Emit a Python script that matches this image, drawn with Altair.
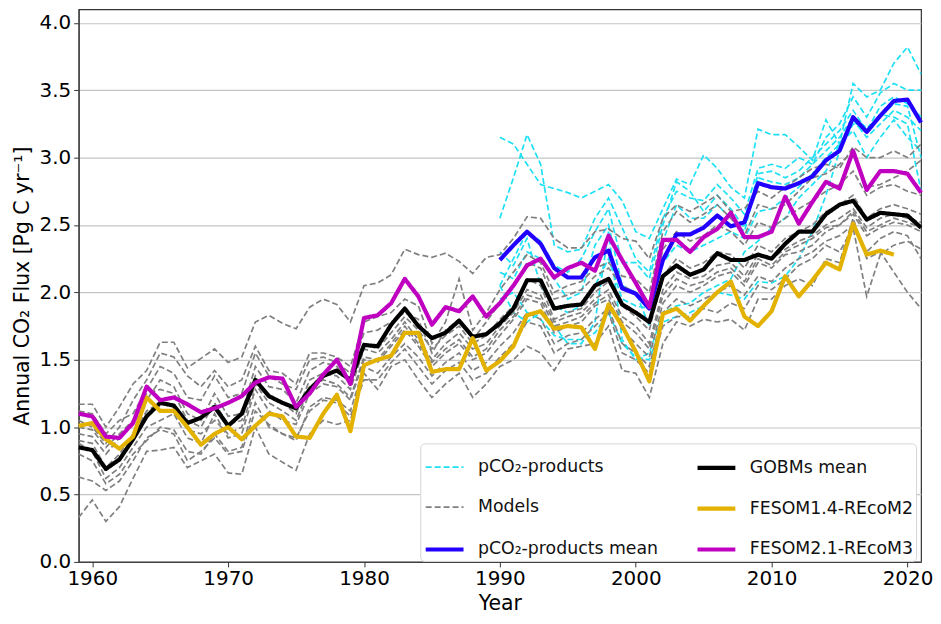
import altair as alt
import pandas as pd

# ---------------- data ----------------
years_all = list(range(1959, 2022))
years_prod = list(range(1990, 2022))
years_f14 = list(range(1959, 2020))

gobm_mean = [0.85, 0.83, 0.69, 0.76, 0.91, 1.08, 1.18, 1.16, 1.03, 1.07, 1.15,
             1.01, 1.10, 1.35, 1.23, 1.18, 1.14, 1.28, 1.38, 1.42, 1.35,
             1.61, 1.60, 1.76, 1.88, 1.75, 1.66, 1.70, 1.79, 1.67, 1.69,
             1.77, 1.88, 2.09, 2.09, 1.88, 1.90, 1.91, 2.05, 2.10, 1.91,
             1.85, 1.78, 2.12, 2.20, 2.13, 2.17, 2.29, 2.24, 2.24, 2.28,
             2.25, 2.36, 2.45, 2.45, 2.58, 2.65, 2.68, 2.54, 2.59, 2.58, 2.57, 2.48]

fesom21 = [1.10, 1.08, 0.93, 0.92, 1.03, 1.30, 1.20, 1.22, 1.17, 1.11, 1.14,
           1.18, 1.23, 1.33, 1.37, 1.36, 1.15, 1.25, 1.39, 1.50, 1.32,
           1.81, 1.83, 1.92, 2.10, 1.97, 1.76, 1.89, 1.86, 1.97, 1.82,
           1.92, 2.05, 2.20, 2.25, 2.11, 2.18, 2.22, 2.16, 2.42, 2.24,
           2.07, 1.89, 2.39, 2.39, 2.30, 2.41, 2.47, 2.59, 2.41, 2.41,
           2.45, 2.71, 2.51, 2.67, 2.82, 2.77, 3.05, 2.76, 2.90, 2.90, 2.88, 2.74]

fesom14 = [1.01, 1.03, 0.91, 0.84, 0.93, 1.22, 1.12, 1.12, 1.00, 0.87, 0.95,
           1.00, 0.91, 1.01, 1.10, 1.08, 0.93, 0.92, 1.10, 1.24, 0.97,
           1.46, 1.50, 1.53, 1.70, 1.70, 1.41, 1.43, 1.43, 1.66, 1.42,
           1.49, 1.60, 1.83, 1.86, 1.73, 1.75, 1.74, 1.58, 1.91, 1.75,
           1.56, 1.34, 1.84, 1.88, 1.79, 1.90, 2.00, 2.08, 1.82, 1.75,
           1.86, 2.12, 1.97, 2.09, 2.22, 2.17, 2.51, 2.28, 2.31, 2.28]

pco2_mean = [2.24, 2.35, 2.45, 2.36, 2.18, 2.11, 2.11, 2.26, 2.31, 2.03,
             1.99, 1.88, 2.24, 2.43, 2.43, 2.48, 2.57, 2.49, 2.52, 2.81,
             2.78, 2.77, 2.81, 2.86, 2.98, 3.05, 3.30, 3.19, 3.31, 3.42,
             3.43, 3.26]

model_1 = [1.17, 1.17, 1.00, 1.15, 1.32, 1.42, 1.63, 1.63, 1.44, 1.51, 1.58,
           1.48, 1.52, 1.78, 1.83, 1.77, 1.73, 1.89, 1.95, 1.91, 1.78,
           2.05, 2.07, 2.13, 2.32, 2.28, 2.26, 2.29, 2.23, 2.14, 2.26,
           2.28, 2.40, 2.56, 2.55, 2.40, 2.33, 2.33, 2.45, 2.47, 2.40,
           2.38, 2.25, 2.55, 2.65, 2.60, 2.66, 2.72, 2.60, 2.62, 2.75,
           2.70, 2.78, 2.85, 2.92, 2.95, 2.92, 3.08, 3.00, 3.00, 3.05, 3.00, 3.10]
model_2 = [0.33, 0.46, 0.30, 0.41, 0.62, 0.82, 0.83, 0.85, 0.70, 0.75, 0.80,
           0.66, 0.65, 1.00, 0.80, 0.74, 0.68, 0.95, 1.05, 1.02, 1.05,
           1.40, 1.28, 1.45, 1.50, 1.35, 1.22, 1.32, 1.40, 1.22, 1.32,
           1.45, 1.50, 1.60, 1.55, 1.42, 1.58, 1.60, 1.62, 1.75, 1.42,
           1.40, 1.22, 1.62, 1.78, 1.75, 1.80, 1.78, 1.80, 1.72, 1.95,
           1.95, 2.05, 2.10, 2.05, 2.25, 2.22, 2.55, 2.25, 2.30, 2.15, 2.00, 1.88]
model_3 = [0.63, 0.60, 0.53, 0.60, 0.75, 0.92, 0.98, 0.95, 0.75, 0.82, 0.92,
           0.80, 0.82, 1.12, 1.02, 0.95, 0.92, 1.12, 1.20, 1.18, 1.08,
           1.35, 1.35, 1.48, 1.58, 1.45, 1.32, 1.42, 1.48, 1.35, 1.40,
           1.52, 1.62, 1.78, 1.75, 1.55, 1.62, 1.65, 1.75, 1.85, 1.55,
           1.50, 1.40, 1.75, 1.82, 1.82, 1.88, 1.85, 1.92, 1.88, 2.05,
           2.02, 2.10, 2.20, 2.25, 2.35, 2.30, 2.48, 1.97, 2.28, 2.35, 2.38, 2.32]
model_4 = [1.05, 1.00, 0.88, 1.00, 1.20, 1.35, 1.55, 1.52, 1.38, 1.30, 1.42,
           1.30, 1.35, 1.60, 1.42, 1.40, 1.32, 1.55, 1.55, 1.52, 1.45,
           1.78, 1.82, 1.85, 1.95, 1.90, 1.62, 1.78, 2.10, 1.72, 1.85,
           2.02, 2.15, 2.28, 2.22, 2.00, 2.05, 2.08, 2.18, 2.22, 2.12,
           2.10, 2.00, 2.45, 2.60, 2.52, 2.58, 2.65, 2.55, 2.42, 2.65,
           2.62, 2.65, 2.75, 2.85, 2.88, 2.95, 3.05, 2.78, 2.80, 2.85, 2.90, 2.98]
model_5 = [0.95, 0.93, 0.80, 0.92, 1.02, 1.20, 1.35, 1.30, 1.10, 1.05, 1.25,
           1.08, 1.10, 1.45, 1.30, 1.28, 1.18, 1.42, 1.48, 1.45, 1.32,
           1.62, 1.58, 1.70, 1.82, 1.72, 1.58, 1.68, 1.75, 1.62, 1.68,
           1.80, 1.90, 2.10, 2.05, 1.80, 1.85, 1.88, 2.00, 2.08, 1.90,
           1.82, 1.72, 2.12, 2.25, 2.18, 2.22, 2.30, 2.28, 2.18, 2.35,
           2.30, 2.40, 2.45, 2.50, 2.60, 2.65, 2.72, 2.55, 2.62, 2.65, 2.62, 2.58]
model_6 = [0.88, 0.82, 0.62, 0.70, 0.85, 1.00, 1.05, 1.10, 0.92, 0.88, 1.10,
           0.92, 0.95, 1.28, 1.12, 1.05, 1.02, 1.25, 1.32, 1.30, 1.20,
           1.50, 1.48, 1.60, 1.72, 1.60, 1.45, 1.55, 1.62, 1.50, 1.55,
           1.68, 1.80, 1.95, 1.92, 1.70, 1.75, 1.78, 1.90, 1.95, 1.72,
           1.62, 1.52, 1.92, 2.05, 2.00, 2.05, 2.12, 2.15, 2.05, 2.22,
           2.18, 2.28, 2.30, 2.35, 2.45, 2.50, 2.58, 2.42, 2.48, 2.52, 2.50, 2.45]
model_7 = [1.12, 1.10, 0.95, 1.05, 1.10, 1.28, 1.45, 1.40, 1.22, 1.20, 1.38,
           1.22, 1.25, 1.55, 1.38, 1.32, 1.28, 1.50, 1.52, 1.48, 1.40,
           1.70, 1.72, 1.78, 1.85, 1.80, 1.55, 1.72, 1.80, 1.65, 1.78,
           1.92, 2.05, 2.22, 2.18, 1.95, 1.98, 2.02, 2.12, 2.18, 2.05,
           2.00, 1.90, 2.32, 2.45, 2.38, 2.42, 2.50, 2.45, 2.35, 2.52,
           2.48, 2.55, 2.62, 2.68, 2.75, 2.80, 2.90, 2.72, 2.78, 2.80, 2.75, 2.72]
model_8 = [0.80, 0.75, 0.58, 0.65, 0.80, 0.90, 1.00, 0.98, 0.82, 0.80, 0.95,
           0.82, 0.85, 1.18, 1.00, 0.95, 0.90, 1.15, 1.22, 1.20, 1.12,
           1.45, 1.40, 1.52, 1.62, 1.52, 1.38, 1.48, 1.55, 1.42, 1.48,
           1.60, 1.70, 1.85, 1.80, 1.62, 1.68, 1.70, 1.80, 1.88, 1.62,
           1.55, 1.45, 1.85, 1.95, 1.90, 1.95, 2.00, 2.05, 1.98, 2.12,
           2.08, 2.18, 2.25, 2.30, 2.38, 2.42, 2.50, 2.30, 2.40, 2.45, 2.42, 2.25]
model_9 = [1.00, 0.98, 0.85, 0.95, 1.05, 1.25, 1.28, 1.25, 1.05, 1.00, 1.18,
           1.02, 1.05, 1.38, 1.22, 1.18, 1.10, 1.35, 1.40, 1.38, 1.28,
           1.58, 1.55, 1.65, 1.78, 1.65, 1.50, 1.62, 1.70, 1.58, 1.62,
           1.75, 1.85, 2.02, 1.98, 1.78, 1.82, 1.85, 1.95, 2.02, 1.82,
           1.75, 1.62, 2.02, 2.15, 2.10, 2.12, 2.20, 2.22, 2.12, 2.28,
           2.25, 2.32, 2.38, 2.42, 2.50, 2.55, 2.62, 2.48, 2.55, 2.58, 2.55, 2.52]
model_10 = [0.90, 0.88, 0.70, 0.80, 0.95, 1.12, 1.18, 1.15, 0.98, 0.95, 1.05,
            0.95, 1.00, 1.32, 1.18, 1.12, 1.05, 1.30, 1.35, 1.32, 1.22,
            1.52, 1.50, 1.62, 1.75, 1.62, 1.48, 1.58, 1.65, 1.52, 1.58,
            1.72, 1.82, 1.98, 1.95, 1.75, 1.78, 1.82, 1.92, 1.98, 1.78,
            1.70, 1.58, 1.98, 2.10, 2.05, 2.08, 2.15, 2.18, 2.08, 2.25,
            2.20, 2.30, 2.35, 2.40, 2.48, 2.50, 2.60, 2.45, 2.50, 2.55, 2.52, 2.48]

prod_1 = [3.15, 3.10, 2.95, 2.80, 2.77, 2.74, 2.70, 2.75, 2.80, 2.68,
          2.45, 2.40, 2.62, 2.84, 2.80, 3.02, 2.92, 2.78, 2.70, 3.21,
          3.17, 3.17, 3.08, 2.98, 3.28, 3.10, 3.55, 3.45, 3.50, 3.70, 3.82, 3.62]
prod_2 = [2.55, 2.85, 3.17, 2.95, 2.35, 2.30, 2.32, 2.55, 2.70, 2.48,
          2.25, 2.15, 2.55, 2.75, 2.70, 2.68, 2.80, 2.70, 2.58, 2.92,
          2.95, 2.92, 3.00, 2.95, 3.15, 3.25, 3.45, 3.30, 3.48, 3.55, 3.50, 3.50]
prod_3 = [2.05, 2.25, 2.45, 2.38, 2.20, 2.15, 2.25, 2.45, 2.62, 2.22,
          2.22, 2.10, 2.50, 2.82, 2.75, 2.60, 2.72, 2.62, 2.48, 2.88,
          2.90, 2.85, 2.90, 3.00, 3.10, 3.20, 3.35, 3.20, 3.38, 3.45, 3.40, 3.30]
prod_4 = [1.95, 2.00, 1.85, 1.80, 1.68, 1.65, 1.65, 1.70, 1.85, 1.62,
          1.52, 1.50, 1.78, 1.82, 1.85, 1.90, 2.00, 1.98, 1.95, 2.08,
          2.07, 2.12, 2.25, 2.45, 2.72, 3.05, 3.25, 3.20, 3.32, 3.30, 3.25, 2.75]
prod_5 = [2.30, 2.20, 2.40, 2.05, 1.90, 1.85, 1.90, 2.05, 2.25, 1.95,
          1.90, 1.88, 2.22, 2.35, 2.30, 2.35, 2.40, 2.45, 2.40, 2.60,
          2.62, 2.70, 2.78, 2.88, 3.00, 3.10, 3.28, 3.15, 3.25, 3.35, 3.30, 3.20]
prod_6 = [2.05, 1.85, 1.78, 1.85, 1.75, 1.62, 1.62, 1.78, 2.45, 1.65,
          1.50, 1.55, 1.85, 1.90, 1.92, 2.00, 2.05, 2.10, 2.30, 2.38,
          2.48, 2.55, 2.70, 2.80, 2.90, 3.10, 3.20, 3.00, 3.15, 3.28, 3.15, 3.05]
prod_7 = [2.15, 2.10, 2.30, 2.25, 2.10, 1.95, 2.00, 2.35, 2.50, 2.05,
          2.00, 1.75, 2.38, 2.65, 2.55, 2.55, 2.65, 2.55, 2.45, 2.85,
          2.82, 2.80, 2.85, 2.95, 3.05, 3.15, 3.30, 3.22, 3.30, 3.40, 3.38, 3.00]

# legend labels, listed column by column (two columns)
LBL_PROD = "pCO₂-products"
LBL_MOD = "Models"
LBL_PM = "pCO₂-products mean"
LBL_GOBM = "GOBMs mean"
LBL_F14 = "FESOM1.4-REcoM2"
LBL_F21 = "FESOM2.1-REcoM3"
legend_order = [LBL_PROD, LBL_MOD, LBL_PM, LBL_GOBM, LBL_F14, LBL_F21]
legend_colors = ["#1ee0f4", "#808080", "#2200ff", "#000000", "#e3b200", "#c000c0"]
legend_dashes = [[6, 3], [6, 3], [1, 0], [1, 0], [1, 0], [1, 0]]
legend_widths = [1.7, 1.7, 4.2, 4.2, 4.2, 4.2]

# ---------------- build long table ----------------
rows = []
def add(name, group, yrs, vals):
    for y, v in zip(yrs, vals):
        rows.append({"series": name, "group": group, "year": y, "value": v})

prods = [prod_1, prod_2, prod_3, prod_4, prod_5, prod_6, prod_7]
models = [model_1, model_2, model_3, model_4, model_5, model_6, model_7,
          model_8, model_9, model_10]
for i, p in enumerate(prods):
    add(f"p{i}", LBL_PROD, years_prod, p)
for i, m in enumerate(models):
    add(f"m{i}", LBL_MOD, years_all, m)
add("pm", LBL_PM, years_prod, pco2_mean)
add("gm", LBL_GOBM, years_all, gobm_mean)
add("f14", LBL_F14, years_f14, fesom14)
add("f21", LBL_F21, years_all, fesom21)
df = pd.DataFrame(rows)

FONT = "DejaVu Sans"

leg = alt.Legend(
    title=None, orient="none", legendX=343, legendY=436, columns=2,
    direction="vertical",
    columnPadding=31, rowPadding=11, labelFontSize=17.4, labelFont=FONT,
    labelColor="#111111", symbolType="stroke", symbolSize=1444,
    labelOffset=12, padding=3, fillColor="white", strokeColor="#d6d6d6",
    cornerRadius=4, symbolLimit=0, labelLimit=400,
)

x_enc = alt.X("year:Q",
              scale=alt.Scale(domain=[1959, 2021], nice=False, zero=False),
              axis=alt.Axis(values=[1960, 1970, 1980, 1990, 2000, 2010, 2020],
                            format="d", title="Year", grid=False,
                            labelPadding=2, titlePadding=5))
y_enc = alt.Y("value:Q",
              scale=alt.Scale(domain=[0, 4.1], nice=False, zero=True),
              axis=alt.Axis(values=[0, 0.5, 1, 1.5, 2, 2.5, 3, 3.5, 4],
                            format=".1f", title="Annual CO₂ Flux [Pg C yr⁻¹]",
                            grid=True, gridColor="#c4c4c4", gridWidth=1.2,
                            labelPadding=3, titlePadding=7))

def enc(base):
    return base.encode(
        x=x_enc, y=y_enc, detail="series:N",
        color=alt.Color("group:N",
                        scale=alt.Scale(domain=legend_order, range=legend_colors),
                        legend=leg),
        strokeDash=alt.StrokeDash("group:N",
                                  scale=alt.Scale(domain=legend_order, range=legend_dashes),
                                  legend=leg),
        strokeWidth=alt.StrokeWidth("group:N",
                                    scale=alt.Scale(type="ordinal", domain=legend_order,
                                                    range=legend_widths),
                                    legend=leg),
    )

layers = []
for key in ["p", "m"]:
    sub = df[df["series"].str.startswith(key) & (df["series"] != "pm")]
    layers.append(enc(alt.Chart(sub).mark_line(strokeCap="butt")))
for key in ["pm", "gm", "f14", "f21"]:
    sub = df[df["series"] == key]
    layers.append(enc(alt.Chart(sub).mark_line(strokeJoin="round")))

chart = alt.layer(*layers).properties(
    width=846, height=555,
    padding={"left": 4, "top": 0, "right": 0, "bottom": 0},
).configure_axis(
    labelFont=FONT, titleFont=FONT, labelFontSize=20, titleFontSize=20.5,
    labelColor="black", titleColor="black", titleFontWeight="normal",
    domainColor="#333333", tickColor="#333333", tickSize=5,
).configure_view(
    stroke="#333333", strokeWidth=1.2,
)

chart.save("out.html", embed_options={"renderer": "svg", "actions": False})
